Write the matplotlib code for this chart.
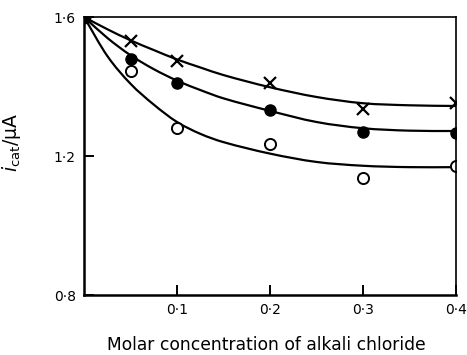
import matplotlib
matplotlib.use("Agg")
import matplotlib.pyplot as plt
from matplotlib.path import Path
from matplotlib.patches import PathPatch

# Measured points
x_pts = [0.05, 0.1, 0.2, 0.3, 0.4]
cross_y = [1.531, 1.473, 1.410, 1.335, 1.352]
filled_y = [1.479, 1.410, 1.332, 1.269, 1.266]
open_y = [1.445, 1.281, 1.235, 1.137, 1.171]
start_x = [0.0]
start_y = [1.6]

# Drawn curves
curve_x = [0.0, 0.025, 0.05, 0.075, 0.1, 0.125, 0.15, 0.2, 0.25, 0.3, 0.35, 0.4]
cross_curve = [1.600, 1.565, 1.533, 1.505, 1.478, 1.455, 1.433, 1.398, 1.370, 1.352, 1.346, 1.344]
filled_curve = [1.600, 1.540, 1.490, 1.450, 1.417, 1.390, 1.366, 1.330, 1.298, 1.280, 1.273, 1.272]
open_curve = [1.600, 1.488, 1.408, 1.348, 1.298, 1.264, 1.240, 1.207, 1.183, 1.172, 1.168, 1.168]

x_ticks = [0.1, 0.2, 0.3, 0.4]
x_ticklabels = ["0·1", "0·2", "0·3", "0·4"]
y_ticks = [0.8, 1.2, 1.6]
y_ticklabels = ["0·8", "1·2", "1·6"]


def smooth_path(xs, ys):
    """Cubic Hermite (Bezier) path through the read curve points."""
    n = len(xs)
    m = []
    for i in range(n):
        a = max(i - 1, 0)
        b = min(i + 1, n - 1)
        m.append((ys[b] - ys[a]) / (xs[b] - xs[a]))
    verts = [(xs[0], ys[0])]
    codes = [Path.MOVETO]
    for i in range(n - 1):
        h = xs[i + 1] - xs[i]
        c1 = (xs[i] + h / 3, ys[i] + m[i] * h / 3)
        c2 = (xs[i + 1] - h / 3, ys[i + 1] - m[i + 1] * h / 3)
        verts += [c1, c2, (xs[i + 1], ys[i + 1])]
        codes += [Path.CURVE4, Path.CURVE4, Path.CURVE4]
    return Path(verts, codes)


plt.rcParams['font.family'] = ['DejaVu Sans']
fig = plt.figure(figsize=(4.67, 3.55), dpi=100)
ax = fig.add_axes([0.180, 0.169, 0.796, 0.783])

for cy in (cross_curve, filled_curve, open_curve):
    ax.add_patch(PathPatch(smooth_path(curve_x, cy), fill=False,
                           edgecolor='black', lw=1.6, capstyle='round'))

ax.plot(x_pts, cross_y, linestyle='none', marker='x', ms=8, mew=1.6, color='black')
ax.plot(x_pts, filled_y, linestyle='none', marker='o', ms=8, color='black')
ax.plot(x_pts, open_y, linestyle='none', marker='o', ms=8, mfc='white', mec='black', mew=1.4)
ax.plot(start_x, start_y, linestyle='none', marker='o', ms=9, color='black')

ax.set_xlim(0, 0.4)
ax.set_ylim(0.8, 1.6)
ax.set_xticks(x_ticks)
ax.set_xticklabels(x_ticklabels, fontsize=10)
ax.set_yticks(y_ticks)
ax.set_yticklabels(y_ticklabels, fontsize=10)
ax.tick_params(direction='in', length=7, width=1.4, pad=6)

for s in ('left', 'bottom'):
    ax.spines[s].set_linewidth(1.8)
for s in ('top', 'right'):
    ax.spines[s].set_linewidth(1.2)

ax.set_xlabel("Molar concentration of alkali chloride", fontsize=12.3, va='center')
ax.xaxis.set_label_coords(0.49, -0.18)
ax.set_ylabel(r"$\mathbf{\mathit{i}}_{\mathrm{cat}}$/μA", fontsize=13.5)
ax.yaxis.set_label_coords(-0.165, 0.55)

fig.savefig("out.png", dpi=100)
